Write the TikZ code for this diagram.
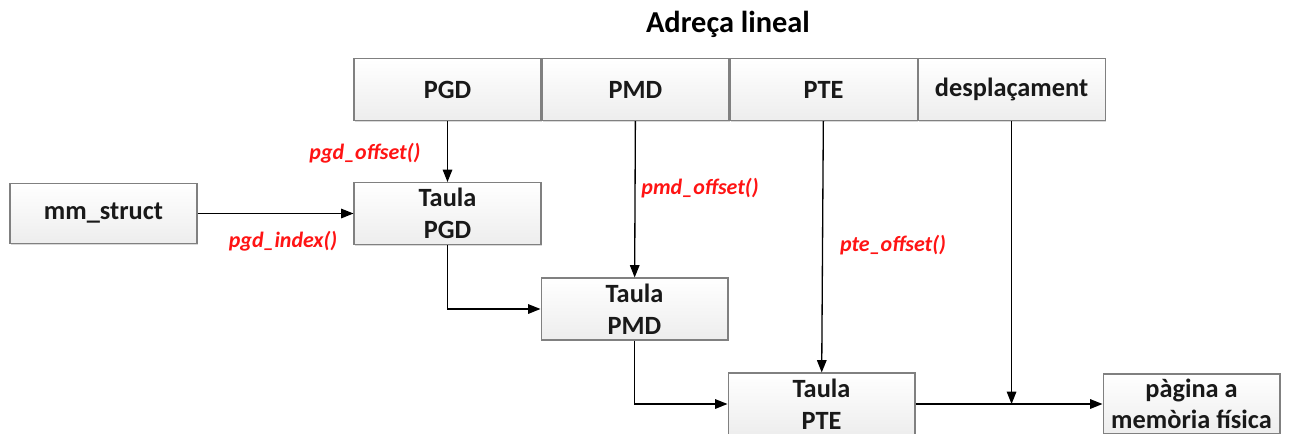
\documentclass[tikz,border=0pt]{standalone}
\usepackage{fontspec}
\setmainfont{Carlito}
\usetikzlibrary{positioning,arrows.meta,shadows}
\definecolor{boxline}{RGB}{128,128,128}
\definecolor{fnred}{RGB}{255,20,20}
\tikzset{
  cell/.style={draw=boxline, line width=0.6pt, top color=white, bottom color=black!7,
    minimum width=3.74cm, minimum height=1.24cm, inner sep=0pt, align=center,
    font=\fontsize{15}{18}\selectfont\bfseries, text=black!90,
    drop shadow={shadow xshift=0.6pt, shadow yshift=-0.6pt, opacity=0.3}},
  fn/.style={font=\fontsize{12.5}{14}\selectfont\bfseries\itshape, text=fnred},
  arr/.style={-{Triangle[length=7pt,width=5.4pt]}, line width=0.75pt}
}
\begin{document}
\begin{tikzpicture}[x=0.02cm, y=-0.02cm]
\useasboundingbox (0,0) rectangle (1290,433);
\node[font=\fontsize{17.3}{20}\selectfont\bfseries] (title) at (728,24) {Adreça lineal};
% adreça lineal
\node[cell] (pgd) at (447.5,89.5) {PGD};
\node[cell, right=0pt of pgd] (pmd) {PMD};
\node[cell, right=0pt of pmd] (pte) {PTE};
\node[cell, right=0pt of pte] (desp) {desplaçament};
% taules
\node[cell, minimum height=1.2cm] (mm) at (103.5,213.5) {mm\_struct};
\node[cell] (tpgd) at (447.5,213.5) {Taula\\PGD};
\node[cell] (tpmd) at (634.5,309) {Taula\\PMD};
\node[cell] (tpte) at (821.5,404) {Taula\\PTE};
\node[cell, minimum width=3.54cm, minimum height=1.2cm] (page) at (1191.5,404) {pàgina a\\memòria física};
\coordinate (join) at (desp.south |- tpte.east);
\draw[arr] (pgd) -- (tpgd);
\draw[arr] (pmd) -- (tpmd);
\draw[arr] (pte) -- (tpte);
\draw[arr] (desp) -- (join);
\draw[arr] (mm) -- (tpgd);
\draw[arr] (tpgd) |- (tpmd);
\draw[arr] (tpmd) |- (tpte);
\draw[arr] (tpte) -- (page);
\node[fn] (lpgdoff) at (365,153) {pgd\_offset()};
\node[fn] (lpgdidx) at (283,241) {pgd\_index()};
\node[fn] (lpmdoff) at (700,188) {pmd\_offset()};
\node[fn] (lpteoff) at (893,245) {pte\_offset()};
\end{tikzpicture}
\end{document}
